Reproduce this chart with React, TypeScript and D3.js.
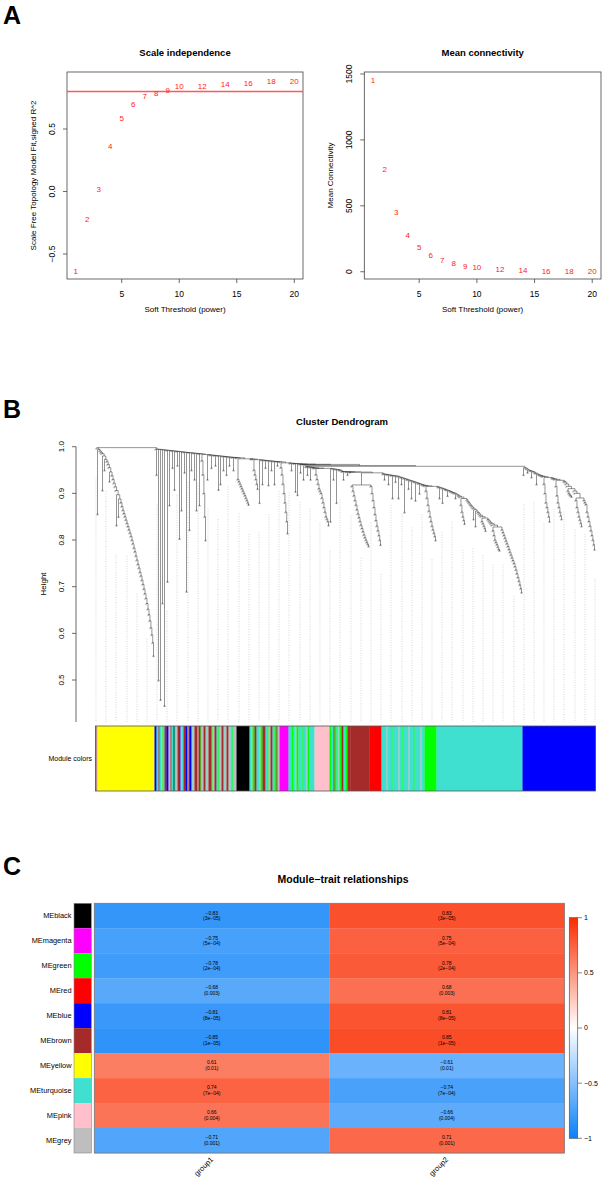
import React from 'react';
import * as d3 from 'd3';

const FONT = 'Liberation Sans, Arial, Helvetica, sans-serif';

// ---------- Panel A data ----------
const powers = [1, 2, 3, 4, 5, 6, 7, 8, 9, 10, 12, 14, 16, 18, 20];
const fitR2 = [-0.64, -0.22, 0.02, 0.364, 0.588, 0.70, 0.76, 0.79, 0.81, 0.84, 0.845, 0.86, 0.87, 0.885, 0.885];
const meanK = [1450, 776, 452, 280, 185, 124, 89, 64, 43, 33, 18, 11, 5, 5, 2];
const r2Cut = 0.8;
const powerTicks = [5, 10, 15, 20];
const r2Ticks = [-0.5, 0, 0.5];
const kTicks = [0, 500, 1000, 1500];

// ---------- Panel B data: merge heights between neighbouring leaves ----------
const yellowGaps = [0.997, 0.856, 0.994, 0.991, 0.988, 0.985, 0.907, 0.98, 0.95, 0.973, 0.968, 0.962, 0.955, 0.926, 0.946, 0.938, 0.93, 0.922, 0.914, 0.906, 0.832, 0.897, 0.85, 0.888, 0.88, 0.872, 0.864, 0.857, 0.85, 0.843, 0.836, 0.829, 0.822, 0.815, 0.808, 0.80, 0.792, 0.783, 0.775, 0.766, 0.757, 0.748, 0.74, 0.731, 0.723, 0.714, 0.705, 0.695, 0.685, 0.675, 0.664, 0.652, 0.64, 0.627, 0.612, 0.597, 0.58, 0.552];
const rootGap = [0.998];
const midGaps = [
  0.995, 0.94, 0.9945, 0.50, 0.9941, 0.458, 0.9936, 0.665, 0.9931, 0.445,
  0.9927, 0.9924, 0.711, 0.992, 0.875, 0.9915, 0.9913, 0.955, 0.9908, 0.908,
  0.9904, 0.9901, 0.96, 0.9897, 0.803, 0.9892, 0.864, 0.9887, 0.9885, 0.945,
  0.988, 0.69, 0.9876, 0.9873, 0.822, 0.9869, 0.95, 0.9864, 0.9862, 0.93,
  0.9857, 0.864, 0.9852, 0.985, 0.875, 0.9845, 0.97, 0.94, 0.90, 0.85,
  0.80, 0.9832, 0.93, 0.9827, 0.9825, 0.9822, 0.955, 0.9818, 0.9815, 0.9813,
  0.96, 0.9808, 0.9806, 0.908, 0.9801, 0.92, 0.9797, 0.9794, 0.95, 0.979,
  0.9788, 0.94, 0.9783, 0.978, 0.96, 0.9776, 0.9774, 0.9771, 0.95, 0.9767,
  0.9764, 0.9762,
];
const blackGaps = [0.93, 0.925, 0.92, 0.915, 0.91, 0.905, 0.90, 0.895, 0.89, 0.885, 0.88, 0.876, 0.9741];
const mix2Gaps = [0.9739, 0.9736, 0.9734, 0.95, 0.94, 0.93, 0.92, 0.91, 0.9722, 0.88, 0.9718, 0.9715, 0.92, 0.971, 0.9708, 0.955, 0.9704, 0.9701, 0.918, 0.9697, 0.9694, 0.95, 0.969, 0.9687, 0.92, 0.9683, 0.968, 0.96, 0.9676, 0.9674];
const magentaGaps = [0.955, 0.94, 0.92, 0.90, 0.88, 0.86, 0.84, 0.815, 0.9653];
const mix3Gaps = [0.965, 0.9648, 0.95, 0.9643, 0.9641, 0.9639, 0.904, 0.9634, 0.897, 0.9629, 0.9627, 0.945, 0.9622, 0.962, 0.93, 0.9595];
const sec305Gaps = [0.957, 0.9568, 0.94, 0.9565, 0.956, 0.93, 0.9555, 0.955, 0.9545, 0.954];
const pinkGaps = [0.94, 0.93, 0.92, 0.91, 0.905, 0.90, 0.89, 0.88, 0.87, 0.86, 0.85, 0.845, 0.84, 0.832];
const sec330Gaps = [0.9535, 0.84, 0.953, 0.9525, 0.93, 0.952, 0.9515, 0.88, 0.951, 0.9505, 0.950, 0.9495];
const sec341Gaps = [0.947, 0.9468, 0.93, 0.9466, 0.9464, 0.9462, 0.94, 0.946, 0.9458, 0.9456];
const brownGaps = [0.915, 0.905, 0.895, 0.885, 0.875, 0.865, 0.856, 0.848, 0.84, 0.832, 0.825, 0.818, 0.811, 0.805, 0.80, 0.795, 0.791, 0.787, 0.918];
const redGaps = [0.915, 0.90, 0.885, 0.87, 0.855, 0.842, 0.83, 0.82, 0.81, 0.80, 0.79, 0.944];
const turqMixGaps = [0.942, 0.9415, 0.93, 0.941, 0.9405, 0.94, 0.92, 0.9395, 0.939, 0.9385, 0.89, 0.938, 0.9375, 0.925, 0.937, 0.9365, 0.89, 0.935, 0.934, 0.92, 0.933, 0.932, 0.86, 0.931, 0.93, 0.929, 0.91, 0.928, 0.927, 0.89, 0.926, 0.925, 0.924, 0.885, 0.923, 0.922, 0.921, 0.90, 0.92, 0.919, 0.918, 0.917, 0.916];
const greenGaps = [0.905, 0.89, 0.875, 0.862, 0.85, 0.84, 0.83, 0.822, 0.815, 0.808, 0.80, 0.915];
const turqGaps = [
  0.914, 0.913, 0.89, 0.912, 0.911, 0.88, 0.91, 0.909, 0.908, 0.907, 0.895, 0.906, 0.905, 0.904, 0.903, 0.902, 0.901, 0.90, 0.89, 0.898, 0.896, 0.894, 0.892,
  0.875, 0.86, 0.85, 0.842, 0.835,
  0.889, 0.886, 0.883, 0.88, 0.877, 0.874, 0.871, 0.868, 0.845, 0.865, 0.83, 0.862, 0.859, 0.856, 0.853, 0.85,
  0.84, 0.835, 0.83, 0.825, 0.82,
  0.847, 0.844, 0.841, 0.838, 0.835, 0.832,
  0.82, 0.81, 0.80, 0.795, 0.79, 0.785, 0.78, 0.778,
  0.828, 0.822, 0.816, 0.81, 0.804, 0.798, 0.792, 0.786, 0.78, 0.774, 0.768, 0.762, 0.756, 0.75, 0.743, 0.736, 0.728, 0.72, 0.712, 0.704, 0.696, 0.688,
  0.958,
];
const blueGaps = [
  0.94, 0.955, 0.954, 0.952, 0.945, 0.95, 0.949, 0.948, 0.935, 0.947, 0.946, 0.944, 0.943, 0.92, 0.941, 0.94, 0.939, 0.938, 0.937, 0.936,
  0.92, 0.90, 0.88, 0.87, 0.86, 0.85, 0.84,
  0.934, 0.933, 0.932, 0.931, 0.93,
  0.915, 0.895, 0.88, 0.87, 0.86, 0.852, 0.845,
  0.928, 0.926, 0.924, 0.92, 0.915,
  0.905, 0.90, 0.897, 0.895, 0.893,
  0.91, 0.905, 0.90,
  0.885, 0.87, 0.86, 0.85, 0.843, 0.836, 0.83,
  0.89, 0.885, 0.88, 0.876,
  0.86, 0.85, 0.84, 0.83, 0.82, 0.81, 0.80, 0.79, 0.78,
];
const heightTicks = [0.5, 0.6, 0.7, 0.8, 0.9, 1.0];

// module colour strip, in leaf order: [module, leaves]
const moduleStrip: [string, number][] = [
  ['brown', 1], ['grey', 1], ['yellow', 57],
  ['blue', 2], ['turquoise', 2], ['brown', 1], ['turquoise', 2], ['grey', 1], ['green', 1], ['turquoise', 1], ['brown', 2], ['blue', 2], ['grey', 2],
  ['brown', 1], ['turquoise', 2], ['blue', 1], ['green', 1], ['grey', 2], ['brown', 2], ['blue', 1], ['grey', 1], ['turquoise', 2], ['brown', 2],
  ['blue', 2], ['grey', 1], ['brown', 1], ['blue', 2], ['turquoise', 1], ['grey', 2], ['brown', 3], ['grey', 1], ['brown', 2], ['green', 1],
  ['grey', 2], ['brown', 2], ['turquoise', 1], ['grey', 2], ['brown', 3], ['green', 1], ['grey', 2], ['brown', 2], ['turquoise', 2], ['green', 1],
  ['grey', 2], ['brown', 2], ['turquoise', 1], ['grey', 2], ['brown', 2], ['grey', 2], ['turquoise', 2], ['green', 1], ['grey', 3],
  ['black', 13],
  ['turquoise', 2], ['grey', 1], ['green', 2], ['brown', 2], ['turquoise', 3], ['grey', 1], ['green', 2], ['brown', 3], ['turquoise', 2], ['green', 1],
  ['grey', 2], ['brown', 2], ['turquoise', 2], ['green', 2], ['brown', 1], ['grey', 2],
  ['magenta', 9],
  ['turquoise', 3], ['green', 2], ['turquoise', 2], ['grey', 1], ['green', 2], ['turquoise', 4], ['green', 1], ['turquoise', 3], ['grey', 1], ['green', 2], ['turquoise', 5],
  ['pink', 15],
  ['green', 2], ['turquoise', 2], ['brown', 1], ['green', 2], ['turquoise', 2], ['grey', 1], ['green', 2], ['brown', 2], ['turquoise', 2], ['green', 2], ['brown', 3],
  ['brown', 19], ['red', 12],
  ['turquoise', 5], ['grey', 1], ['turquoise', 4], ['green', 1], ['turquoise', 6], ['grey', 1], ['turquoise', 3], ['green', 1], ['turquoise', 5], ['grey', 1],
  ['turquoise', 4], ['green', 1], ['turquoise', 6], ['grey', 1], ['turquoise', 3],
  ['green', 12], ['turquoise', 86], ['blue', 73],
];

const rColors: Record<string, string> = {
  grey: '#BEBEBE', turquoise: '#40E0D0', blue: '#0000FF', brown: '#A52A2A', yellow: '#FFFF00',
  green: '#00FF00', red: '#FF0000', black: '#000000', pink: '#FFC0CB', magenta: '#FF00FF',
};

// ---------- Panel C data ----------
const modules = ['MEblack', 'MEmagenta', 'MEgreen', 'MEred', 'MEblue', 'MEbrown', 'MEyellow', 'MEturquoise', 'MEpink', 'MEgrey'];
const moduleColor = ['black', 'magenta', 'green', 'red', 'blue', 'brown', 'yellow', 'turquoise', 'pink', 'grey'];
const traits = ['group1', 'group2'];
const corGroup1 = [-0.83, -0.75, -0.78, -0.68, -0.81, -0.85, 0.61, 0.74, 0.66, -0.71];
const pValues = ['3e-05', '5e-04', '2e-04', '0.003', '8e-05', '1e-05', '0.01', '7e-04', '0.004', '0.001'];
const legendTicks = [-1, -0.5, 0, 0.5, 1];

const minus = (s: string) => s.replace(/-/g, '\u2212');

function ScatterPanel({ left, right, top, bottom, xDom, yDom, yTicks, vals, title, ylab, cut }: any) {
  const x = d3.scaleLinear().domain(xDom).range([left, right]);
  const y = d3.scaleLinear().domain(yDom).range([bottom, top]);
  const fmtY = (v: number) => (Math.abs(v) < 1 && v !== 0 ? minus(v.toFixed(1)) : v === 0 && yTicks.length === 3 ? '0.0' : String(v));
  return (
    <g fontFamily={FONT}>
      <text x={(left + right) / 2} y={56} textAnchor="middle" fontSize={9.5} fontWeight="bold">{title}</text>
      <rect x={left} y={top} width={right - left} height={bottom - top} fill="none" stroke="#444" strokeWidth={0.8} />
      {cut !== undefined && <rect x={left} y={y(cut) - 0.75} width={right - left} height={1.5} fill="#FF5A5A" />}
      {powerTicks.map((t) => (
        <g key={t}>
          <line x1={x(t)} x2={x(t)} y1={bottom} y2={bottom + 4} stroke="#444" strokeWidth={0.8} />
          <text x={x(t)} y={297} textAnchor="middle" fontSize={8.5}>{t}</text>
        </g>
      ))}
      {yTicks.map((t: number) => (
        <g key={t}>
          <line x1={left - 4} x2={left} y1={y(t)} y2={y(t)} stroke="#444" strokeWidth={0.8} />
          <text transform={`translate(${left - 12},${y(t)}) rotate(-90)`} textAnchor="middle" fontSize={8.5}>{fmtY(t)}</text>
        </g>
      ))}
      <text x={(left + right) / 2} y={312} textAnchor="middle" fontSize={8}>Soft Threshold (power)</text>
      <text transform={`translate(${left - 31},${(top + bottom) / 2}) rotate(-90)`} textAnchor="middle" fontSize={8}>{ylab}</text>
      {powers.map((p, i) => (
        <text key={p} x={x(p)} y={y(vals[i])} dy="0.35em" textAnchor="middle" fontSize={8} fill="#FF2020">{p}</text>
      ))}
    </g>
  );
}

function buildTree(gaps: number[], lo: number, hi: number): any {
  if (lo === hi) return { leaf: lo };
  let k = lo;
  for (let i = lo + 1; i < hi; i++) if (gaps[i] > gaps[k]) k = i;
  return { h: gaps[k], children: [buildTree(gaps, lo, k), buildTree(gaps, k + 1, hi)] };
}

function Dendrogram() {
  const gaps = [
    ...yellowGaps, ...rootGap, ...midGaps, ...blackGaps, ...mix2Gaps, ...magentaGaps, ...mix3Gaps,
    ...sec305Gaps, ...pinkGaps, ...sec330Gaps, ...sec341Gaps, ...brownGaps, ...redGaps,
    ...turqMixGaps, ...greenGaps, ...turqGaps, ...blueGaps,
  ];
  const N = gaps.length + 1;
  const HANG = 0.003;
  const root = d3.hierarchy(buildTree(gaps, 0, N - 1));
  d3.cluster<any>().size([N, 1]).separation(() => 1)(root as any);
  const x = d3.scaleLinear().domain([0.5, N - 0.5]).range([96, 595]);
  const y = d3.scaleLinear().domain([0.41, 1]).range([722, 446.7]);
  let path = '';
  root.each((n: any) => {
    if (!n.children) return;
    const [a, b] = n.children;
    const top = (c: any) => (c.children ? c.data.h : n.data.h - HANG);
    path += `M${x(a.x).toFixed(2)},${y(top(a)).toFixed(2)}V${y(n.data.h).toFixed(2)}H${x(b.x).toFixed(2)}V${y(top(b)).toFixed(2)}`;
  });
  const leaves = root.leaves() as any[];
  const guides = d3.range(50).map((k) => leaves[Math.round((k * (N - 1)) / 49)]);

  const total = d3.sum(moduleStrip, (d) => d[1]);
  const bx = d3.scaleLinear().domain([0, total]).range([95.5, 595.5]);
  let acc = 0;
  const strips = moduleStrip.map(([c, n]) => {
    const s = { c, a: acc, b: acc + n };
    acc += n;
    return s;
  });

  return (
    <g fontFamily={FONT}>
      <text x={342} y={425} textAnchor="middle" fontSize={9.5} fontWeight="bold">Cluster Dendrogram</text>
      {guides.map((l: any, i: number) => (
        <line key={i} x1={x(l.x)} x2={x(l.x)} y1={y(l.parent.data.h - HANG - 0.06)} y2={722}
          stroke="#BBBBBB" strokeWidth={0.6} strokeDasharray="1,1.5" />
      ))}
      <path d={path} fill="none" stroke="#111" strokeWidth={0.45} />
      <line x1={76} x2={76} y1={y(1)} y2={722} stroke="#444" strokeWidth={0.8} />
      {heightTicks.map((t) => (
        <g key={t}>
          <line x1={72} x2={76} y1={y(t)} y2={y(t)} stroke="#444" strokeWidth={0.8} />
          <text transform={`translate(${64},${y(t)}) rotate(-90)`} textAnchor="middle" fontSize={8}>{t.toFixed(1)}</text>
        </g>
      ))}
      <text transform={`translate(${46},${584}) rotate(-90)`} textAnchor="middle" fontSize={8}>Height</text>
      {strips.map((s, i) => (
        <rect key={i} x={bx(s.a)} y={726} width={bx(s.b) - bx(s.a) + 0.3} height={65} fill={rColors[s.c]} />
      ))}
      <rect x={95.5} y={726} width={500} height={65} fill="none" stroke="#555" strokeWidth={0.8} />
      <text x={92} y={761} textAnchor="end" fontSize={7}>Module colors</text>
    </g>
  );
}

function Heatmap() {
  const color = d3.scaleLinear<string>().domain([-1, 0, 1]).range(['#0A80F8', '#FFFFFF', '#F92C00']);
  const rows = d3.scaleBand().domain(modules).range([903.3, 1153]);
  const cols = d3.scaleBand().domain(traits).range([94.3, 564.3]);
  const cor = (t: string, i: number) => (t === 'group1' ? corGroup1[i] : -corGroup1[i]);
  const ly = d3.scaleLinear().domain([-1, 1]).range([1138.3, 917.7]);
  return (
    <g fontFamily={FONT}>
      <defs>
        <linearGradient id="legendGrad" x1="0" y1="1" x2="0" y2="0">
          {d3.range(0, 1.0001, 0.1).map((f) => (
            <stop key={f} offset={f} stopColor={color(-1 + 2 * f)} />
          ))}
        </linearGradient>
      </defs>
      <text x={343} y={883} textAnchor="middle" fontSize={10.5} fontWeight="bold">Module{'\u2212'}trait relationships</text>
      {modules.map((m, i) => (
        <g key={m}>
          <rect x={74} y={rows(m)!} width={17.3} height={rows.bandwidth()} fill={rColors[moduleColor[i]]} />
          <text x={71.5} y={rows(m)! + rows.bandwidth() / 2} dy="0.35em" textAnchor="end" fontSize={7.4}>{m}</text>
          {traits.map((t) => (
            <g key={t}>
              <rect x={cols(t)!} y={rows(m)!} width={cols.bandwidth() + 0.3} height={rows.bandwidth() + 0.3} fill={color(cor(t, i))} />
              <text x={cols(t)! + cols.bandwidth() / 2} y={rows(m)! + rows.bandwidth() / 2 - 1.2} textAnchor="middle" fontSize={5}>
                {minus(cor(t, i).toFixed(2))}
              </text>
              <text x={cols(t)! + cols.bandwidth() / 2} y={rows(m)! + rows.bandwidth() / 2 + 4.6} textAnchor="middle" fontSize={5}>
                {minus(`(${pValues[i]})`)}
              </text>
            </g>
          ))}
        </g>
      ))}
      <rect x={74} y={903.3} width={17.3} height={249.7} fill="none" stroke="#888" strokeWidth={0.6} />
      <rect x={94.3} y={903.3} width={470} height={249.7} fill="none" stroke="#777" strokeWidth={0.8} />
      {traits.map((t) => (
        <text key={t} transform={`translate(${cols(t)! + cols.bandwidth() / 2 + 2},${1160}) rotate(-45)`} textAnchor="end" fontSize={7.5}>{t}</text>
      ))}
      <rect x={569.3} y={917.7} width={8.4} height={220.6} fill="url(#legendGrad)" stroke="#555" strokeWidth={0.7} />
      {legendTicks.map((t) => (
        <g key={t}>
          <line x1={577.7} x2={582} y1={ly(t)} y2={ly(t)} stroke="#555" strokeWidth={0.7} />
          <text x={584} y={ly(t)} dy="0.35em" fontSize={7}>{minus(String(t))}</text>
        </g>
      ))}
    </g>
  );
}

export default function App() {
  return (
    <svg width={604} height={1182} style={{ position: 'absolute', left: 0, top: 0, background: '#fff' }}>
      <rect width={604} height={1182} fill="#fff" />
      <g fontFamily={FONT} fontWeight="bold" fontSize={25}>
        <text x={3} y={24}>A</text>
        <text x={3} y={418}>B</text>
        <text x={3} y={875}>C</text>
      </g>
      <ScatterPanel left={67} right={303} top={72} bottom={279} xDom={[0.24, 20.76]} yDom={[-0.70, 0.956]}
        yTicks={r2Ticks} vals={fitR2} title="Scale independence" ylab="Scale Free Topology Model Fit,signed R^2" cut={r2Cut} />
      <ScatterPanel left={364.3} right={601} top={72} bottom={279} xDom={[0.24, 20.76]} yDom={[-55, 1515]}
        yTicks={kTicks} vals={meanK} title="Mean connectivity" ylab="Mean Connectivity" />
      <Dendrogram />
      <Heatmap />
    </svg>
  );
}
